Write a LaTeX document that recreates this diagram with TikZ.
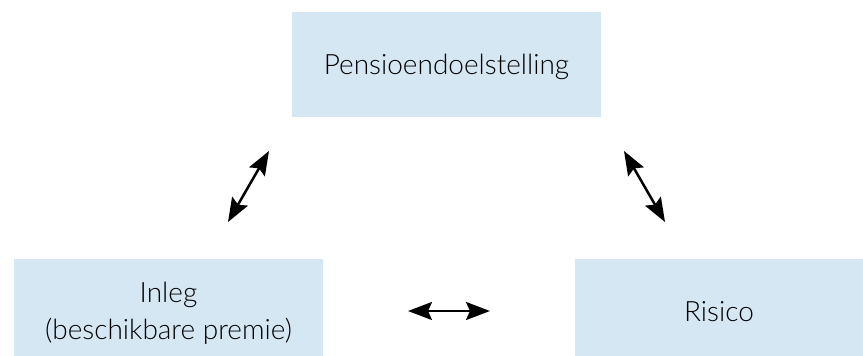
\documentclass[tikz,border=0pt]{standalone}
\usepackage{fontspec}
\setmainfont{Lato}[UprightFont=* Light]
\usetikzlibrary{arrows.meta}
\definecolor{boxblue}{HTML}{D6E7F4}
\begin{document}
\begin{tikzpicture}[x=1pt,y=-1pt,
  box/.style={fill=boxblue,draw=none,inner sep=0pt,align=center,font=\fontsize{28}{37}\selectfont},
  link/.style={{Stealth[length=24pt 0,width=18pt 0,inset=4pt 0]}-{Stealth[length=24pt 0,width=18pt 0,inset=4pt 0]},line width=2.5pt}]
\useasboundingbox (0,0) rectangle (863,356);
\fill[boxblue] (292,12) rectangle (601,117);
\fill[boxblue] (14,259) rectangle (323,356);
\fill[boxblue] (575,259) rectangle (863,356);
\node[box] (top) at (446.5,67) {Pensioendoelstelling};
\node[box] (left) at (168.5,313) {Inleg\\(beschikbare premie)};
\node[box] (right) at (719,312) {Risico};
\coordinate (a1) at (228,222); \coordinate (a2) at (269,151);
\coordinate (b1) at (624,151); \coordinate (b2) at (665,222);
\coordinate (c1) at (408,311); \coordinate (c2) at (490,311);
\draw[link] (a1) -- (a2);
\draw[link] (b1) -- (b2);
\draw[link] (c1) -- (c2);
\end{tikzpicture}
\end{document}
